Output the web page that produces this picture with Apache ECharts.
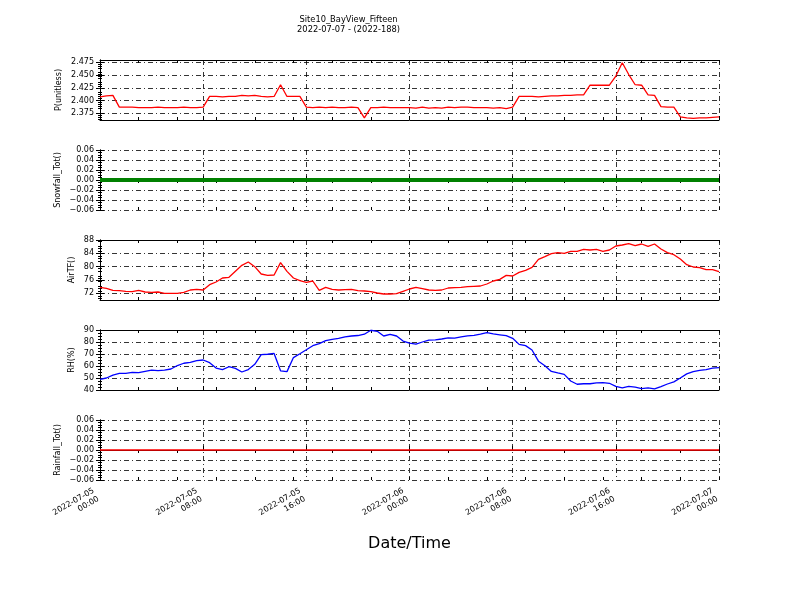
<!DOCTYPE html>
<html>
<head>
<meta charset="utf-8">
<script src="https://cdn.jsdelivr.net/npm/echarts@6/dist/echarts.min.js"></script>
<style>html,body{margin:0;padding:0;background:#fff;}#chart{width:800px;height:600px;}</style>
</head>
<body>
<div id="chart"></div>
<script>
// ---- Data (30-minute samples from 2022-07-05 00:00 to 2022-07-07 00:00) ----
const startDay = 5;            // 2022-07-05
const stepHours = 0.5;

const pValues = [
  2.407, 2.409, 2.410, 2.387, 2.387, 2.387, 2.386, 2.386, 2.386, 2.387,
  2.386, 2.386, 2.386, 2.387, 2.386, 2.386, 2.387, 2.408, 2.408, 2.407,
  2.408, 2.408, 2.410, 2.409, 2.410, 2.408, 2.407, 2.408, 2.431, 2.408,
  2.408, 2.408, 2.387, 2.386, 2.387, 2.386, 2.387, 2.386, 2.386, 2.387,
  2.386, 2.366, 2.386, 2.386, 2.387, 2.386, 2.386, 2.386, 2.386, 2.385,
  2.387, 2.385, 2.386, 2.385, 2.387, 2.386, 2.387, 2.387, 2.386, 2.386,
  2.386, 2.385, 2.386, 2.384, 2.387, 2.408, 2.408, 2.408, 2.407, 2.408,
  2.409, 2.409, 2.410, 2.410, 2.411, 2.411, 2.430, 2.430, 2.430, 2.430,
  2.448, 2.474, 2.451, 2.431, 2.430, 2.411, 2.410, 2.388, 2.387, 2.387,
  2.368, 2.366, 2.365, 2.366, 2.366, 2.367, 2.368
];

const snowfallValues = [
  0,0,0,0,0,0,0,0,0,0, 0,0,0,0,0,0,0,0,0,0, 0,0,0,0,0,0,0,0,0,0,
  0,0,0,0,0,0,0,0,0,0, 0,0,0,0,0,0,0,0,0,0, 0,0,0,0,0,0,0,0,0,0,
  0,0,0,0,0,0,0,0,0,0, 0,0,0,0,0,0,0,0,0,0, 0,0,0,0,0,0,0,0,0,0,
  0,0,0,0,0,0,0
];

const airTFValues = [
  73.8, 73.5, 72.9, 72.8, 72.6, 72.5, 72.9, 72.4, 72.3, 72.4,
  72.0, 72.0, 72.0, 72.3, 73.0, 73.2, 73.0, 74.6, 75.4, 76.6,
  76.8, 78.6, 80.4, 81.4, 80.0, 77.8, 77.4, 77.5, 81.2, 78.6,
  76.6, 75.8, 75.3, 75.7, 72.9, 73.8, 73.2, 73.0, 73.1, 73.2,
  72.8, 72.7, 72.5, 72.1, 71.8, 71.8, 71.9, 72.6, 73.3, 73.8,
  73.4, 73.0, 72.9, 73.0, 73.6, 73.7, 73.8, 74.0, 74.1, 74.2,
  74.8, 75.7, 76.2, 77.4, 77.2, 78.3, 78.9, 79.8, 82.2, 83.0,
  83.9, 84.2, 84.0, 84.6, 84.6, 85.2, 85.0, 85.2, 84.6, 85.0,
  86.2, 86.5, 86.9, 86.3, 86.8, 86.1, 86.8, 85.3, 84.2, 83.6,
  82.3, 80.6, 79.9, 79.7, 79.1, 79.1, 78.5
];

const rhValues = [
  48.9, 50.0, 52.4, 53.8, 53.9, 54.6, 54.4, 55.5, 56.5, 56.1,
  56.5, 57.5, 60.4, 62.3, 63.1, 64.5, 65.0, 62.8, 58.3, 57.0,
  59.4, 58.0, 55.0, 57.0, 61.4, 69.4, 69.8, 70.5, 56.0, 55.3,
  67.0, 70.2, 73.5, 76.9, 78.7, 81.2, 82.1, 83.0, 84.2, 85.0,
  85.4, 86.5, 89.8, 88.9, 85.0, 86.4, 85.0, 80.8, 79.0, 78.2,
  80.0, 81.6, 81.7, 82.5, 83.4, 83.2, 84.2, 85.1, 85.6, 86.5,
  87.8, 86.7, 86.0, 85.3, 83.1, 78.0, 77.0, 73.3, 64.0, 60.2,
  55.5, 54.2, 53.0, 47.5, 44.8, 45.2, 45.2, 46.0, 46.1, 45.6,
  43.0, 41.8, 43.0, 42.4, 41.2, 41.8, 40.9, 42.9, 45.0, 46.8,
  50.0, 53.4, 55.3, 56.4, 57.0, 58.2, 58.6
];

const rainfallValues = [
  0,0,0,0,0,0,0,0,0,0, 0,0,0,0,0,0,0,0,0,0, 0,0,0,0,0,0,0,0,0,0,
  0,0,0,0,0,0,0,0,0,0, 0,0,0,0,0,0,0,0,0,0, 0,0,0,0,0,0,0,0,0,0,
  0,0,0,0,0,0,0,0,0,0, 0,0,0,0,0,0,0,0,0,0, 0,0,0,0,0,0,0,0,0,0,
  0,0,0,0,0,0,0
];

// tick labels
const pTicks = [2.375, 2.400, 2.425, 2.450, 2.475];
const airTicks = [72, 76, 80, 84, 88];
const totTicks = [-0.06, -0.04, -0.02, 0.00, 0.02, 0.04, 0.06];
const rhTicks = [40, 50, 60, 70, 80, 90];

const titleText = 'Site10_BayView_Fifteen\n2022-07-07 - (2022-188)';
const xName = 'Date/Time';

// ---- Chart ----
const FONT = 'DejaVu Sans';
const hours = pValues.map((_, i) => i * stepHours);
const pair = arr => hours.map((h, i) => [h, arr[i]]);
const dashDot = [5, 3, 1, 3];
const minus = s => s.replace('-', '\u2212');

function xLabel(h) {
  const day = startDay + Math.floor(h / 24);
  const hh = h % 24;
  return '2022-07-' + String(day).padStart(2, '0') + '\n' + String(hh).padStart(2, '0') + ':00';
}

const panels = [
  { name: 'P(unitless)', data: pValues, color: '#ff0000', width: 1.3,
    min: 2.3618, max: 2.4795, ticks: pTicks, fmt: v => v.toFixed(3), gap: 37, minorSplit: 5 },
  { name: 'Snowfall_Tot()', data: snowfallValues, color: '#008000', width: 4,
    min: -0.06, max: 0.06, ticks: totTicks, fmt: v => minus(v.toFixed(2)), gap: 38, minorSplit: 4 },
  { name: 'AirTF()', data: airTFValues, color: '#ff0000', width: 1.3,
    min: 70, max: 88, ticks: airTicks, fmt: v => String(Math.round(v)), gap: 24, minorSplit: 4 },
  { name: 'RH(%)', data: rhValues, color: '#0000ff', width: 1.3,
    min: 40, max: 90, ticks: rhTicks, fmt: v => String(Math.round(v)), gap: 24, minorSplit: 4 },
  { name: 'Rainfall_Tot()', data: rainfallValues, color: '#ff0000', width: 1.5,
    min: -0.06, max: 0.06, ticks: totTicks, fmt: v => minus(v.toFixed(2)), gap: 38, minorSplit: 4 }
];

const grids = [], xAxes = [], yAxes = [], series = [];
const tops = [60, 150, 240, 330, 420];

panels.forEach((p, i) => {
  grids.push({ left: 100, right: 81, top: tops[i], height: 60, containLabel: false });
  const last = i === panels.length - 1;
  // main bottom x axis: 8h major ticks, grid lines, labels
  xAxes.push({
    type: 'value', gridIndex: i, position: 'bottom', min: 0, max: 48, interval: 8,
    axisLine: { show: true, lineStyle: { color: '#000', width: 1 } },
    axisTick: { show: true, inside: true, length: 4, lineStyle: { color: '#000' } },
    splitLine: { show: true, lineStyle: { color: '#000', width: 0.8, type: dashDot } },
    axisLabel: last ? { show: true, rotate: 30, margin: 1, fontSize: 8, fontFamily: FONT, color: '#000',
      align: 'right', verticalAlign: 'top', lineHeight: 9.5, padding: [0, 10, 0, 0],
      hideOverlap: false, showMinLabel: true, showMaxLabel: true, formatter: xLabel } : { show: false },
    name: last ? xName : '', nameLocation: 'middle', nameGap: 56, nameMoveOverlap: false,
    nameTextStyle: { fontSize: 16, fontFamily: FONT, color: '#000' }
  });
  // top x axis: 3h minor ticks
  xAxes.push({
    type: 'value', gridIndex: i, position: 'top', min: 0, max: 48, interval: 3,
    axisLine: { show: true, lineStyle: { color: '#000', width: 1 } },
    axisTick: { show: true, inside: true, length: 3, lineStyle: { color: '#000' } },
    splitLine: { show: false }, axisLabel: { show: false }
  });
  // bottom 3h minor ticks
  xAxes.push({
    type: 'value', gridIndex: i, position: 'bottom', min: 0, max: 48, interval: 3,
    axisLine: { show: false },
    axisTick: { show: true, inside: true, length: 3, lineStyle: { color: '#000' } },
    splitLine: { show: false }, axisLabel: { show: false }
  });
  const yBase = {
    type: 'value', gridIndex: i, min: p.min, max: p.max,
    axisLine: { show: true, lineStyle: { color: '#000', width: 1 } }
  };
  const tickCfg = { show: true, inside: true, length: 4, lineStyle: { color: '#000' }, customValues: p.ticks };
  const minorCfg = { show: true, splitNumber: p.minorSplit, length: 2, lineStyle: { color: '#000' } };
  yAxes.push(Object.assign({}, yBase, {
    position: 'left',
    axisTick: tickCfg,
    minorTick: minorCfg,
    axisLabel: { show: true, fontSize: 8, fontFamily: FONT, color: '#000', margin: 6,
      formatter: p.fmt, customValues: p.ticks },
    splitLine: { show: true, lineStyle: { color: '#000', width: 0.8, type: dashDot } },
    name: p.name, nameLocation: 'middle', nameGap: p.gap, nameMoveOverlap: false,
    nameTextStyle: { fontSize: 8, fontFamily: FONT, color: '#000' }
  }));
  yAxes.push(Object.assign({}, yBase, {
    position: 'right',
    axisTick: Object.assign({}, tickCfg),
    minorTick: Object.assign({}, minorCfg),
    axisLabel: { show: false },
    splitLine: { show: false }
  }));
  series.push({
    type: 'line', xAxisIndex: i * 3, yAxisIndex: i * 2, data: pair(p.data),
    showSymbol: false, symbol: 'none', animation: false, z: 5,
    lineStyle: { color: p.color, width: p.width }, itemStyle: { color: p.color }
  });
});

const chart = echarts.init(document.getElementById('chart'), null, { renderer: 'canvas' });
chart.setOption({
  backgroundColor: '#fff',
  animation: false,
  title: {
    text: titleText, left: 'center', top: 10,
    textStyle: { fontSize: 8.3, fontWeight: 'normal', fontFamily: FONT, color: '#000', lineHeight: 10 },
    textAlign: 'center'
  },
  grid: grids, xAxis: xAxes, yAxis: yAxes, series: series
});
</script>
</body>
</html>
